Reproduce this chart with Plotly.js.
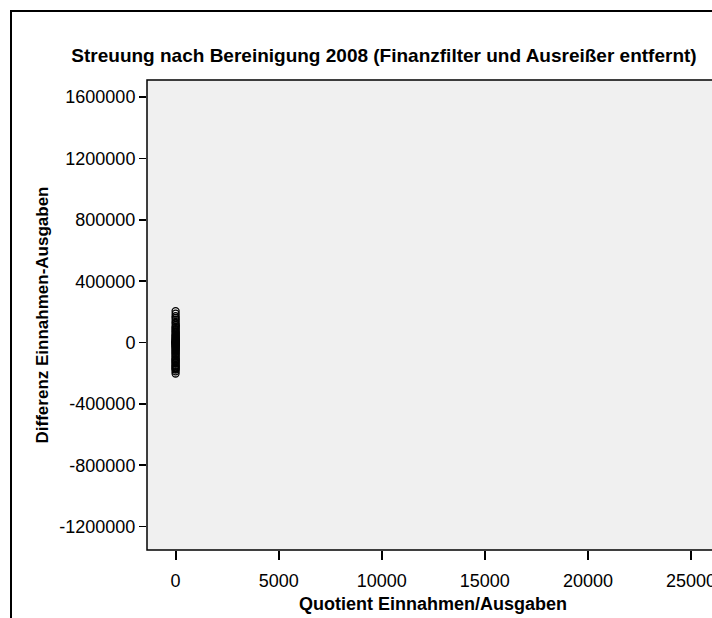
<!DOCTYPE html>
<html>
<head>
<meta charset="utf-8">
<script src="https://cdn.plot.ly/plotly-3.0.1.min.js"></script>
<style>
html,body{margin:0;padding:0;overflow:hidden;background:#fff;width:712px;height:618px;}
#chart{width:760px;height:618px;}
</style>
</head>
<body>
<div id="chart"></div>
<script>
// Quotient Einnahmen/Ausgaben (x) and Differenz Einnahmen-Ausgaben (y)
var quotient = [1.2, 3.5, 0.8, 2.1, 5.4, 1.7, 0.9, 12.3, 2.6, 1.1, 4.2, 0.7, 1.9, 3.1, 8.6, 1.4,
  0.6, 2.4, 1.3, 6.2, 0.9, 1.8, 2.9, 1.05, 0.95, 1.5, 3.8, 0.85, 1.25, 2.2, 7.4, 1.6,
  0.75, 1.35, 2.7, 0.98, 1.15, 4.8, 0.88, 1.45, 0.65, 1.02, 0.92, 1.08, 0.55, 1.3,
  0.8, 0.45, 0.7, 0.6, 0.5, 0.4, 0.35, 0.3, 0.72, 0.62, 0.52, 0.42, 0.25, 0.2];
var differenz = [205000, 188000, 172000, 160000, 148000, 135000, 124000, 113000, 104000, 96000, 88000, 80000, 72000, 65000, 58000, 51000,
  45000, 39000, 33000, 28000, 23000, 18000, 14000, 10000, 6000, 3000, 1000, -1000, -3000, -6000, -9000, -13000,
  -17000, -21000, -26000, -31000, -36000, -42000, -48000, -54000, -61000, -68000, -75000, -83000, -91000, -99000,
  -108000, -117000, -126000, -136000, -146000, -156000, -166000, -176000, -112000, -131000, -152000, -171000, -188000, -202000];

var yTicks = [-1200000, -800000, -400000, 0, 400000, 800000, 1200000, 1600000];
var xTicks = [0, 5000, 10000, 15000, 20000, 25000];

var trace = {
  x: quotient, y: differenz, type: 'scatter', mode: 'markers',
  marker: {symbol: 'circle-open', size: 7, color: '#000', line: {width: 1.3, color: '#000'}},
  hoverinfo: 'skip', showlegend: false
};

var fnt = 'Liberation Sans, Arial, sans-serif';
var layout = {
  width: 760, height: 618,
  margin: {l: 147, r: 41, t: 80, b: 68},
  paper_bgcolor: '#fff', plot_bgcolor: '#f0f0f0',
  title: {text: '<b>Streuung nach Bereinigung 2008 (Finanzfilter und Ausreißer entfernt)</b>',
    font: {family: fnt, size: 19, color: '#000'}, x: 384/760, xanchor: 'center', y: 1 - 55/618, yanchor: 'middle'},
  xaxis: {
    range: [-1386, 26357], tickvals: xTicks, ticktext: xTicks.map(String),
    ticks: 'outside', ticklen: 9, tickwidth: 2, tickcolor: '#000', ticklabelstandoff: 5,
    showgrid: false, zeroline: false, showline: false,
    tickfont: {family: fnt, size: 18, color: '#000'},
    title: {text: '<b>Quotient Einnahmen/Ausgaben</b>', font: {family: fnt, size: 18, color: '#000'}, standoff: 7}
  },
  yaxis: {
    range: [-1353000, 1712000], tickvals: yTicks, ticktext: yTicks.map(String),
    ticks: 'outside', ticklen: 7, tickwidth: 1.5, tickcolor: '#000', ticklabelstandoff: 0,
    showgrid: false, zeroline: false, showline: false,
    tickfont: {family: fnt, size: 18, color: '#000'},
    title: {text: '<b>Differenz Einnahmen-Ausgaben</b>', font: {family: fnt, size: 17, color: '#000'}, standoff: 6}
  },
  shapes: [
    {type: 'rect', xref: 'paper', yref: 'paper', x0: 0, x1: 1, y0: 0, y1: 1, line: {color: '#000', width: 1.5}, fillcolor: 'rgba(0,0,0,0)'},
    {type: 'rect', xref: 'paper', yref: 'paper', x0: (11 - 147) / 572, x1: 1.3, y0: -0.5, y1: (550 - 11) / 470, line: {color: '#000', width: 2}, fillcolor: 'rgba(0,0,0,0)'}
  ]
};

Plotly.newPlot('chart', [trace], layout, {staticPlot: true, displayModeBar: false});
</script>
</body>
</html>
